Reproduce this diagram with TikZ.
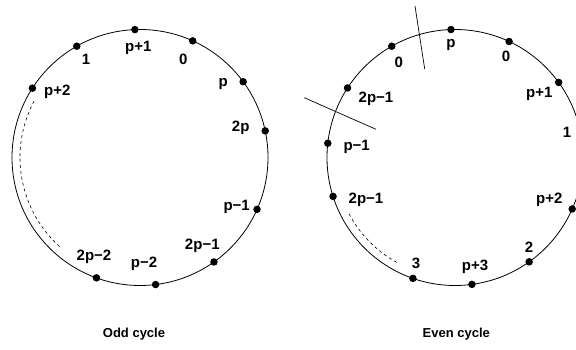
\documentclass[tikz,border=0pt]{standalone}
\usepackage{fontspec}
\setmainfont{Liberation Sans}
\tikzset{
  vertice/.style={circle, fill=black, inner sep=0pt, minimum size=7.5pt},
  etiqueta/.style={inner sep=0pt, font=\fontsize{15}{17}\selectfont\bfseries},
  titulo/.style={inner sep=0pt, font=\fontsize{13}{15}\selectfont\bfseries},
  ciclo/.style={line width=0.8pt},
  corte/.style={line width=0.7pt}
}
\begin{document}
\begin{tikzpicture}[x=1pt, y=1pt]
        \clip (0,0) rectangle (576,349);
        % Ciclo impar
        \begin{scope}[shift={(140,191.5)}]
            \draw[ciclo] (0,0) circle (128);
            \draw[dashed, line width=0.6pt] (152:120) arc (152:228:120);
            \foreach \a/\n/\x/\y/\t in {92.3/pa/-1.7/109.2/p+1, 65.7/cero/43.3/98.5/0,
                119.6/uno/-54/98.2/1, 36.3/p/83.3/73.5/p, 147.2/pb/-82.7/65.2/p+2,
                12/dosp/100.7/29.2/2p, -23.9/pm/96.7/-49.2/p−1,
                -54.7/dospm/62.3/-88.2/2p−1, -83/pmm/4/-106.8/p−2,
                -109.9/dospmm/-46/-99.2/2p−2} {
                \node[vertice] (impar-\n) at (\a:128) {};
                \node[etiqueta] (impar-l\n) at (\x,\y) {\t};
            }
            \node[titulo] (impar-titulo) at (-6,-176.5) {Odd cycle};
        \end{scope}

        % Ciclo par
        \begin{scope}[shift={(455,191.5)}]
            \draw[ciclo] (0,0) circle (128);
            \draw[dashed, line width=0.6pt] (208:120) arc (208:241:120);
            \foreach \a/\n/\x/\y/\t in {91.8/p/-4/112.5/p, 65/ceroa/51/100.8/0,
                119.6/cerob/-56.3/94.8/0, 35.9/pa/84.3/63.5/p+1,
                147.1/dospma/-79/58.5/2p−1, 173.6/pm/-98.3/10.8/p−1,
                -162.3/dospmb/-89/-42.5/2p−1, -23.7/pb/94.3/-42.5/p+2,
                -54.6/dos/74/-89.8/2, -82.4/pc/20/-109.2/p+3,
                -109.2/tres/-39/-105.8/3} {
                \node[vertice] (par-\n) at (\a:128) {};
                \node[etiqueta] (par-l\n) at (\x,\y) {\t};
            }
            \node[etiqueta] (par-luno) at (112,25.2) {1};
            % Cortes
            \coordinate (c1a) at (-40,151.5);
            \coordinate (c1b) at (-30.3,88.5);
            \coordinate (c2a) at (-150.7,59.8);
            \coordinate (c2b) at (-79,28.2);
            \draw[corte] (c1a) -- (c1b);
            \draw[corte] (c2a) -- (c2b);
            \node[titulo] (par-titulo) at (1.3,-176.5) {Even cycle};
        \end{scope}
    \end{tikzpicture}
\end{document}
